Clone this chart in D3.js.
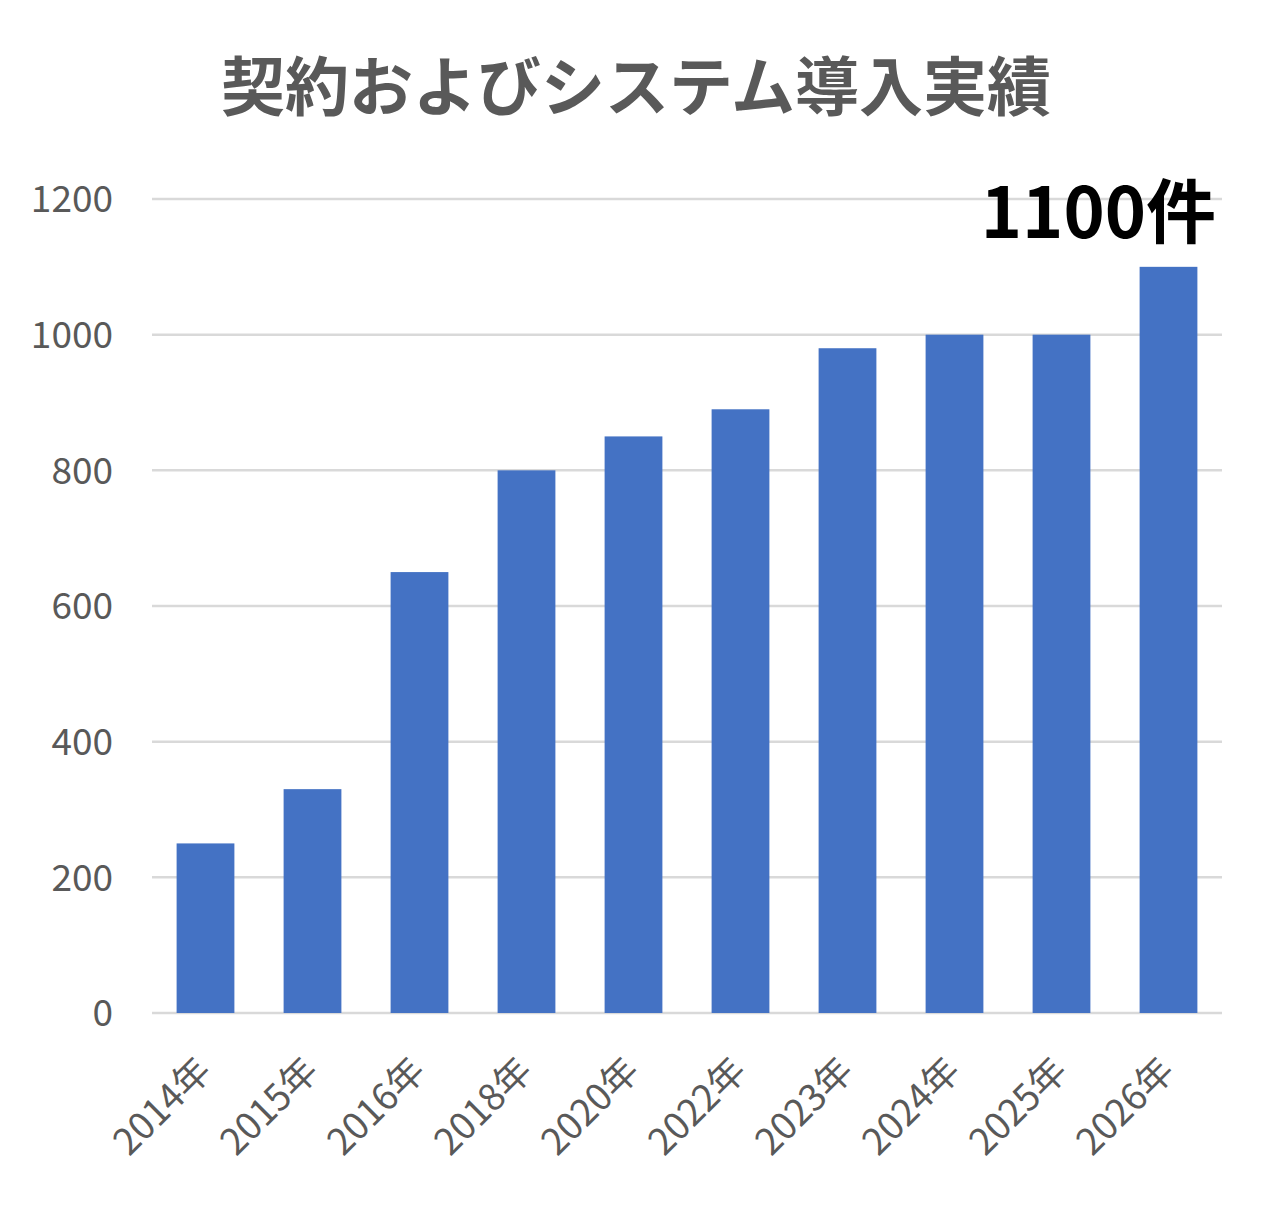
<!DOCTYPE html>
<html>
<head>
<meta charset="utf-8">
<script src="https://cdn.jsdelivr.net/npm/d3@7"></script>
<style>
  body { margin: 0; background: #fff; }
  text { font-family: "Noto Sans CJK JP", "Noto Sans", sans-serif; }
</style>
</head>
<body>
<div id="chart"></div>
<script>
// data
var years = ["2014年", "2015年", "2016年", "2018年", "2020年", "2022年", "2023年", "2024年", "2025年", "2026年"];
var counts = [250, 330, 650, 800, 850, 890, 980, 1000, 1000, 1100];
var yTicks = [0, 200, 400, 600, 800, 1000, 1200];
var titleText = "契約およびシステム導入実績";
var noteText = "1100件";

var width = 1272, height = 1207;
var margin = {top: 199, right: 50, bottom: 194, left: 152};

var svg = d3.select("#chart")
  .append("svg")
    .attr("width", width)
    .attr("height", height);

var x = d3.scaleBand()
    .domain(years)
    .range([margin.left, width - margin.right])
    .paddingInner(0.46)
    .paddingOuter(0.23);

var y = d3.scaleLinear()
    .domain([0, 1200])
    .range([height - margin.bottom, margin.top]);

// gridlines
svg.append("g")
  .selectAll("line")
  .data(yTicks)
  .enter()
  .append("line")
    .attr("x1", margin.left)
    .attr("x2", width - margin.right)
    .attr("y1", function(d) { return y(d); })
    .attr("y2", function(d) { return y(d); })
    .attr("stroke", "#d9d9d9")
    .attr("stroke-width", 2.5);

// y tick labels
svg.append("g")
  .selectAll("text")
  .data(yTicks)
  .enter()
  .append("text")
    .attr("x", 113)
    .attr("y", function(d) { return y(d); })
    .attr("dy", "0.36em")
    .attr("text-anchor", "end")
    .attr("fill", "#595959")
    .style("font-size", "37px")
    .text(function(d) { return d; });

// bars
svg.append("g")
  .selectAll("rect")
  .data(counts)
  .enter()
  .append("rect")
    .attr("x", function(d, i) { return x(years[i]); })
    .attr("width", x.bandwidth())
    .attr("y", function(d) { return y(d); })
    .attr("height", function(d) { return y(0) - y(d); })
    .attr("fill", "#4472c4");

// x labels, rotated
svg.append("g")
  .selectAll("text")
  .data(years)
  .enter()
  .append("text")
    .attr("transform", function(d) {
      return "translate(" + (x(d) + x.bandwidth() / 2 + 8) + "," + (y(0) + 60) + ") rotate(-45)";
    })
    .attr("text-anchor", "end")
    .attr("fill", "#595959")
    .style("font-size", "37px")
    .text(function(d) { return d; });

// title
svg.append("text")
    .attr("x", 636)
    .attr("y", 110)
    .attr("text-anchor", "middle")
    .attr("fill", "#595959")
    .style("font-size", "64px")
    .style("font-weight", "bold")
    .text(titleText);

// annotation above last bar
svg.append("text")
    .attr("x", 1216)
    .attr("y", 238)
    .attr("text-anchor", "end")
    .attr("fill", "#000")
    .style("font-size", "70px")
    .style("font-weight", "bold")
    .text(noteText);
</script>
</body>
</html>
